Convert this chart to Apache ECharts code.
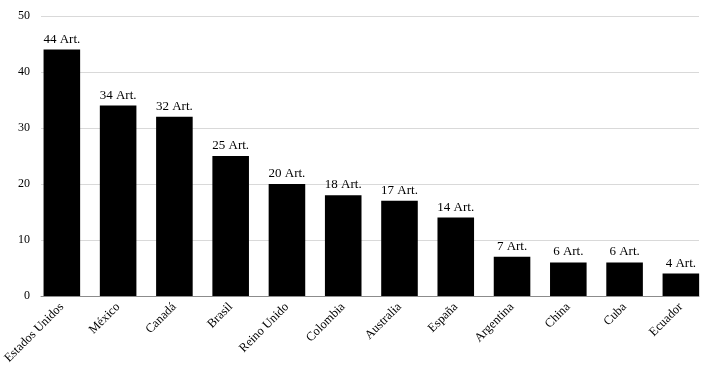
<!DOCTYPE html>
<html>
<head>
<meta charset="utf-8">
<script src="https://cdn.jsdelivr.net/npm/echarts@6/dist/echarts.min.js"></script>
<style>
  html, body { margin: 0; padding: 0; background: #fff; }
  #chart { width: 709px; height: 373px; }
</style>
</head>
<body>
<div id="chart"></div>
<script>
// datos
const paises = ['Estados Unidos', 'México', 'Canadá', 'Brasil', 'Reino Unido', 'Colombia', 'Australia', 'España', 'Argentina', 'China', 'Cuba', 'Ecuador'];
const articulos = [44, 34, 32, 25, 20, 18, 17, 14, 7, 6, 6, 4];
const yTicks = [0, 10, 20, 30, 40, 50];

const fuente = '"Liberation Serif", "DejaVu Serif", serif';
const chart = echarts.init(document.getElementById('chart'));

// grid 0: líneas de guía y eje (el área de barras es más ancha, sin margen a los lados)
// grid 1: barras y etiquetas
chart.setOption({
  animation: false,
  textStyle: { fontFamily: fuente },
  grid: [
    { left: 41, right: 10, top: 16, bottom: 77 },
    { left: 31, right: 0, top: 16, bottom: 77 }
  ],
  xAxis: [
    {
      gridIndex: 0,
      type: 'category',
      data: paises,
      axisLine: { lineStyle: { color: '#8c8c8c', width: 1 } },
      axisTick: { show: false },
      axisLabel: { show: false }
    },
    {
      gridIndex: 1,
      type: 'category',
      data: paises,
      axisLine: { show: false },
      axisTick: { show: false },
      axisLabel: {
        color: '#000',
        fontSize: 12.5,
        fontFamily: fuente,
        rotate: 45,
        interval: 0,
        margin: 9
      }
    }
  ],
  yAxis: [
    {
      gridIndex: 0,
      type: 'value',
      min: yTicks[0],
      max: yTicks[yTicks.length - 1],
      interval: 10,
      axisLine: { show: false },
      axisTick: { show: false },
      axisLabel: { color: '#000', fontSize: 12, fontFamily: fuente, margin: 11 },
      splitLine: { lineStyle: { color: '#d9d9d9', width: 1 } }
    },
    {
      gridIndex: 1,
      type: 'value',
      min: yTicks[0],
      max: yTicks[yTicks.length - 1],
      interval: 10,
      show: false,
      splitLine: { show: false }
    }
  ],
  series: [{
    type: 'bar',
    xAxisIndex: 1,
    yAxisIndex: 1,
    data: articulos,
    barWidth: '65%',
    itemStyle: { color: '#000' },
    label: {
      show: true,
      position: 'top',
      distance: 4,
      color: '#000',
      fontSize: 13,
      fontFamily: fuente,
      formatter: p => p.value + ' Art.'
    }
  }]
});
</script>
</body>
</html>
